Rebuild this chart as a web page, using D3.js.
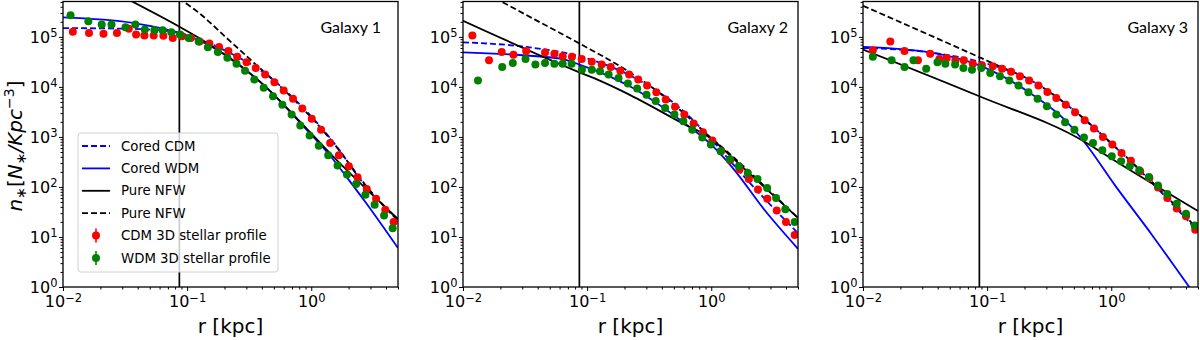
<!DOCTYPE html>
<html>
<head>
<meta charset="utf-8">
<script src="https://cdn.jsdelivr.net/npm/d3@7"></script>
<style>
  body { margin: 0; background: #fff; }
  svg { display: block; }
</style>
</head>
<body>
<div id="chart"></div>
<script>
// ---- data: [r (kpc), n* (N*/kpc^3)] ----
const galaxyNames = ['Galaxy 1', 'Galaxy 2', 'Galaxy 3'];
const xTicks = [0.01, 0.1, 1];
const yTicks = [1, 10, 100, 1e3, 1e4, 1e5];
const rCut = 0.0866;

// Galaxy 1
const cdmStars1 = [[0.0120,1.26e5],[0.0162,1.20e5],[0.0212,1.15e5],[0.0272,1.20e5],[0.0339,1.45e5],[0.0388,1.12e5],[0.0453,1.07e5],[0.0538,1.07e5],[0.0644,1.06e5],[0.0766,9.5e4],[0.0908,1.03e5],[0.107,9.5e4],[0.126,8.1e4],[0.151,7.4e4],[0.181,6.3e4],[0.215,5.2e4],[0.253,4.0e4],[0.301,3.1e4],[0.357,2.4e4],[0.425,1.78e4],[0.505,1.24e4],[0.600,8.5e3],[0.713,5.8e3],[0.847,3.7e3],[1.01,2.3e3],[1.20,1.4e3],[1.42,760],[1.67,430],[2.01,260],[2.36,156],[2.80,91],[3.33,58],[3.95,35],[4.61,20]];
const wdmStars1 = [[0.0115,2.7e5],[0.0160,2.05e5],[0.0205,1.77e5],[0.0246,1.77e5],[0.0319,1.56e5],[0.0383,1.77e5],[0.0456,1.40e5],[0.0545,1.36e5],[0.0635,1.36e5],[0.0746,1.24e5],[0.0875,1.12e5],[0.103,9.5e4],[0.124,8.1e4],[0.147,6.2e4],[0.177,5.0e4],[0.211,3.85e4],[0.250,2.9e4],[0.293,2.1e4],[0.348,1.4e4],[0.414,9.6e3],[0.492,6.5e3],[0.585,4.4e3],[0.695,2.8e3],[0.816,1.7e3],[0.970,1.07e3],[1.15,670],[1.37,430],[1.63,270],[1.94,177],[2.30,115],[2.73,70],[3.24,44],[3.86,27],[4.53,15]];
const coredCdm1 = [[0.01,1.5e5],[0.0365,1.45e5],[0.0866,1.2e5],[0.125,9.0e4],[0.232,4.5e4],[0.43,1.8e4],[0.8,4.6e3],[1.47,850],[2.73,105],[5,22]];
const coredWdm1 = [[0.01,2.45e5],[0.0365,1.9e5],[0.0866,1.2e5],[0.125,8.5e4],[0.232,3.5e4],[0.43,1.0e4],[0.8,2.0e3],[1.47,380],[2.0,140],[2.73,50],[5,6]];
const nfwSolid1 = [[0.034,5.5e5],[0.0866,1.6e5],[0.125,9.5e4],[0.232,3.4e4],[0.43,1.0e4],[0.8,2.1e3],[1.47,430],[2.73,95],[5,23]];
const nfwDashed1 = [[0.085,5.9e5],[0.125,3.0e5],[0.2,1.04e5],[0.347,3.0e4],[0.6,8.8e3],[1.0,2.45e3],[1.47,820],[2.73,110],[5,21]];

// Galaxy 2
const cdmStars2 = [[0.0119,1.07e5],[0.0162,3.4e4],[0.0205,5.0e4],[0.0255,4.4e4],[0.0323,5.2e4],[0.0458,4.9e4],[0.0545,4.6e4],[0.0635,4.1e4],[0.0755,4.0e4],[0.0904,3.6e4],[0.109,3.2e4],[0.131,2.8e4],[0.155,2.5e4],[0.185,2.1e4],[0.218,1.77e4],[0.258,1.4e4],[0.304,1.07e4],[0.361,7.8e3],[0.430,5.6e3],[0.511,4.0e3],[0.607,2.8e3],[0.721,1.85e3],[0.857,1.24e3],[1.02,850],[1.20,520],[1.42,340],[1.69,223],[2.01,145],[2.38,89],[2.83,58],[3.37,34],[4.00,20],[4.70,11]];
const wdmStars2 = [[0.0132,1.34e4],[0.0207,2.5e4],[0.0252,3.0e4],[0.0319,3.6e4],[0.0383,2.8e4],[0.0458,3.0e4],[0.0545,2.9e4],[0.0635,2.9e4],[0.0750,2.9e4],[0.0908,2.2e4],[0.109,2.2e4],[0.127,2.05e4],[0.149,1.77e4],[0.179,1.5e4],[0.213,1.17e4],[0.253,9.3e3],[0.301,7.0e3],[0.357,5.2e3],[0.425,3.8e3],[0.505,2.8e3],[0.596,2.05e3],[0.703,1.4e3],[0.847,980],[0.993,705],[1.19,520],[1.41,360],[1.67,260],[1.97,190],[2.36,145],[2.82,95],[3.33,60],[3.95,36],[4.70,20]];
const coredCdm2 = [[0.01,7.8e4],[0.0323,6.3e4],[0.0866,4.1e4],[0.232,1.6e4],[0.58,3.5e3],[1.0,900],[1.47,300],[2.73,56],[5,12]];
const coredWdm2 = [[0.01,4.9e4],[0.06,3.7e4],[0.0866,2.8e4],[0.232,9.6e3],[0.58,2.05e3],[1.0,700],[1.47,250],[2.73,33],[5,5.8]];
const nfwSolid2 = [[0.01,2.1e5],[0.0866,1.96e4],[0.125,1.35e4],[0.205,7.6e3],[0.58,1.9e3],[1.02,890],[1.47,390],[2.73,95],[5,24]];
const nfwDashed2 = [[0.018,6.0e5],[0.0377,2.24e5],[0.0866,7.4e4],[0.205,2.2e4],[0.36,8.5e3],[0.6,3.0e3],[1.0,950],[1.47,420],[2.73,100],[5,24]];

// Galaxy 3
const cdmStars3 = [[0.0120,5.4e4],[0.0166,8.1e4],[0.0216,5.2e4],[0.0277,3.4e4],[0.0348,4.6e4],[0.0413,3.6e4],[0.0473,3.8e4],[0.0555,3.4e4],[0.0648,3.4e4],[0.0766,2.9e4],[0.0908,2.7e4],[0.111,2.6e4],[0.132,2.3e4],[0.156,2.0e4],[0.184,1.63e4],[0.218,1.35e4],[0.259,1.07e4],[0.306,7.9e3],[0.361,6.0e3],[0.430,4.4e3],[0.511,3.1e3],[0.611,2.15e3],[0.726,1.47e3],[0.857,1.0e3],[1.02,705],[1.21,480],[1.44,335],[1.71,205],[2.03,151],[2.38,98],[2.83,60],[3.37,37],[4.00,26],[4.75,14]];
const wdmStars3 = [[0.0120,4.0e4],[0.0170,3.4e4],[0.0216,2.5e4],[0.0255,3.4e4],[0.0323,2.3e4],[0.0398,3.1e4],[0.0461,2.9e4],[0.0552,2.8e4],[0.0644,2.4e4],[0.0755,2.2e4],[0.0897,2.4e4],[0.106,1.9e4],[0.127,1.63e4],[0.151,1.34e4],[0.179,1.07e4],[0.215,7.8e3],[0.255,5.8e3],[0.303,4.1e3],[0.361,2.8e3],[0.425,1.97e3],[0.505,1.4e3],[0.603,980],[0.713,760],[0.847,540],[1.01,410],[1.20,325],[1.41,260],[1.68,215],[2.01,158],[2.38,107],[2.83,72],[3.37,46],[4.00,29],[4.70,17]];
const coredCdm3 = [[0.01,6.0e4],[0.0365,4.8e4],[0.0866,3.2e4],[0.232,1.3e4],[0.58,2.5e3],[1.0,740],[1.7,215],[2.83,58],[5,13]];
const coredWdm3 = [[0.01,6.3e4],[0.0365,4.8e4],[0.0866,2.7e4],[0.232,7.0e3],[0.43,2.1e3],[0.6,820],[1.08,105],[2.13,11],[4.25,1.0],[5,0.57]];
const nfwSolid3 = [[0.01,5.6e4],[0.0866,6.5e3],[0.6,820],[1.0,370],[5,33]];
const nfwDashed3 = [[0.01,4.2e5],[0.089,3.8e4],[0.125,2.6e4],[0.22,1.4e4],[0.43,4.6e3],[0.86,1.05e3],[1.7,220],[2.83,62],[5,14]];

const panels = [
  {name: galaxyNames[0], cdm: cdmStars1, wdm: wdmStars1, coredCdm: coredCdm1, coredWdm: coredWdm1, nfw: nfwSolid1, nfwDash: nfwDashed1},
  {name: galaxyNames[1], cdm: cdmStars2, wdm: wdmStars2, coredCdm: coredCdm2, coredWdm: coredWdm2, nfw: nfwSolid2, nfwDash: nfwDashed2},
  {name: galaxyNames[2], cdm: cdmStars3, wdm: wdmStars3, coredCdm: coredCdm3, coredWdm: coredWdm3, nfw: nfwSolid3, nfwDash: nfwDashed3},
];

// ---- styles / layout ----
const lineStyles = [
  {key: 'coredCdm', label: 'Cored CDM', color: '#0000ff', dash: '6,3'},
  {key: 'coredWdm', label: 'Cored WDM', color: '#0000ff', dash: null},
  {key: 'nfw', label: 'Pure NFW', color: '#000000', dash: null},
  {key: 'nfwDash', label: 'Pure NFW', color: '#000000', dash: '6,3'},
];
const pointStyles = [
  {key: 'cdm', label: 'CDM 3D stellar profile', color: '#ff0000'},
  {key: 'wdm', label: 'WDM 3D stellar profile', color: '#008000'},
];

const W = 1200, H = 340;
const plotW = 335, plotH = 285.5;
const panelLeft = [63, 463, 863];
const plotTop = 1.5;
const labelRight = [381, 788, 1188];

const svg = d3.select('#chart').append('svg')
  .attr('width', W)
  .attr('height', H)
  .attr('font-family', 'DejaVu Sans, sans-serif');

const x = d3.scaleLog().domain([0.01, 5]).range([0, plotW]);
const y = d3.scaleLog().domain([1, 5.1e5]).range([plotH, 0]);

const line = d3.line()
  .x(d => x(d[0]))
  .y(d => y(d[1]))
  .curve(d3.curveMonotoneX);

function minorTicks(domain) {
  const out = [];
  const lo = Math.floor(Math.log10(domain[0])), hi = Math.ceil(Math.log10(domain[1]));
  for (let e = lo; e < hi; e++) {
    for (let k = 2; k <= 9; k++) {
      const v = k * Math.pow(10, e);
      if (v >= domain[0] && v <= domain[1]) out.push(v);
    }
  }
  return out;
}

function powLabel(sel) {
  sel.each(function(d) {
    const t = d3.select(this).text(null);
    const e = Math.round(Math.log10(d));
    t.append('tspan').text('10');
    t.append('tspan')
      .attr('dy', '-0.45em')
      .attr('font-size', '11.5px')
      .text(String(e).replace('-', '\u2212'));
  });
}

panels.forEach((p, i) => {
  const g = svg.append('g').attr('transform', `translate(${panelLeft[i]},${plotTop})`);

  const clipId = 'clip' + i;
  g.append('clipPath').attr('id', clipId)
    .append('rect').attr('width', plotW).attr('height', plotH);

  // axes
  const xAxis = g.append('g')
    .attr('transform', `translate(0,${plotH})`)
    .call(d3.axisBottom(x).tickValues(xTicks).tickSize(4).tickPadding(5));
  xAxis.selectAll('.tick text').attr('font-size', '16px').call(powLabel);
  g.append('g')
    .attr('transform', `translate(0,${plotH})`)
    .call(d3.axisBottom(x).tickValues(minorTicks(x.domain())).tickSize(2.5).tickFormat(''));

  const yAxis = g.append('g')
    .call(d3.axisLeft(y).tickValues(yTicks).tickSize(4).tickPadding(1.5));
  yAxis.selectAll('.tick text').attr('font-size', '16px').call(powLabel);
  g.append('g')
    .call(d3.axisLeft(y).tickValues(minorTicks(y.domain())).tickSize(2.5).tickFormat(''));

  g.selectAll('.domain').remove();
  g.selectAll('.tick line').attr('stroke', '#000');
  g.selectAll('.tick text').attr('fill', '#000').attr('font-family', 'DejaVu Sans, sans-serif');

  const plot = g.append('g').attr('clip-path', `url(#${clipId})`);

  // vertical marker
  plot.append('line')
    .attr('x1', x(rCut)).attr('x2', x(rCut))
    .attr('y1', 0).attr('y2', plotH)
    .attr('stroke', '#000')
    .attr('stroke-width', 1.7);

  // model curves
  lineStyles.forEach(s => {
    plot.append('path')
      .datum(p[s.key])
      .attr('d', line)
      .attr('fill', 'none')
      .attr('stroke', s.color)
      .attr('stroke-width', 1.8)
      .attr('stroke-dasharray', s.dash);
  });

  // stellar profiles
  pointStyles.forEach(s => {
    plot.append('g').selectAll('circle')
      .data(p[s.key])
      .join('circle')
      .attr('cx', d => x(d[0]))
      .attr('cy', d => y(d[1]))
      .attr('r', 4)
      .attr('fill', s.color);
  });

  // frame
  g.append('rect')
    .attr('width', plotW).attr('height', plotH)
    .attr('fill', 'none')
    .attr('stroke', '#000')
    .attr('stroke-width', 1.3);

  // galaxy label
  g.append('text')
    .attr('x', labelRight[i] - panelLeft[i])
    .attr('y', 31)
    .attr('text-anchor', 'end')
    .attr('font-family', 'Lato, sans-serif')
    .attr('font-size', '16px')
    .text(p.name);

  // x label
  g.append('text')
    .attr('x', plotW / 2)
    .attr('y', 331)
    .attr('text-anchor', 'middle')
    .attr('font-size', '20px')
    .text('r [kpc]');
});

// y label
const yl = svg.append('text')
  .attr('transform', 'translate(22,146) rotate(-90)')
  .attr('text-anchor', 'middle')
  .attr('font-size', '20px');
yl.append('tspan').attr('font-style', 'italic').text('n');
yl.append('tspan').attr('dy', 4).attr('font-size', '14px').text('\u2217');
yl.append('tspan').attr('dy', -4).text('[');
yl.append('tspan').attr('font-style', 'italic').text('N');
yl.append('tspan').attr('dy', 4).attr('font-size', '14px').text('\u2217');
yl.append('tspan').attr('dy', -4).attr('font-style', 'italic').text('/Kpc');
yl.append('tspan').attr('dy', -8).attr('font-size', '14px').text('\u22123');
yl.append('tspan').attr('dy', 8).text(']');

// legend (first panel)
const lg = svg.append('g').attr('transform', 'translate(78,133)');
lg.append('rect')
  .attr('width', 200).attr('height', 139)
  .attr('rx', 3)
  .attr('fill', '#fff').attr('fill-opacity', 0.8)
  .attr('stroke', '#d0d0d0');

const rowY = i => 13 + i * 22.4;
lineStyles.forEach((s, i) => {
  lg.append('line')
    .attr('x1', 4).attr('x2', 32)
    .attr('y1', rowY(i)).attr('y2', rowY(i))
    .attr('stroke', s.color)
    .attr('stroke-width', 1.8)
    .attr('stroke-dasharray', s.dash);
  lg.append('text')
    .attr('x', 43).attr('y', rowY(i))
    .attr('dy', '0.35em')
    .attr('font-size', '13.3px')
    .text(s.label);
});
pointStyles.forEach((s, j) => {
  const i = j + lineStyles.length;
  lg.append('line')
    .attr('x1', 18).attr('x2', 18)
    .attr('y1', rowY(i) - 7).attr('y2', rowY(i) + 7)
    .attr('stroke', s.color)
    .attr('stroke-width', 1.6);
  lg.append('circle')
    .attr('cx', 18).attr('cy', rowY(i))
    .attr('r', 4)
    .attr('fill', s.color);
  lg.append('text')
    .attr('x', 43).attr('y', rowY(i))
    .attr('dy', '0.35em')
    .attr('font-size', '13.3px')
    .text(s.label);
});
</script>
</body>
</html>
